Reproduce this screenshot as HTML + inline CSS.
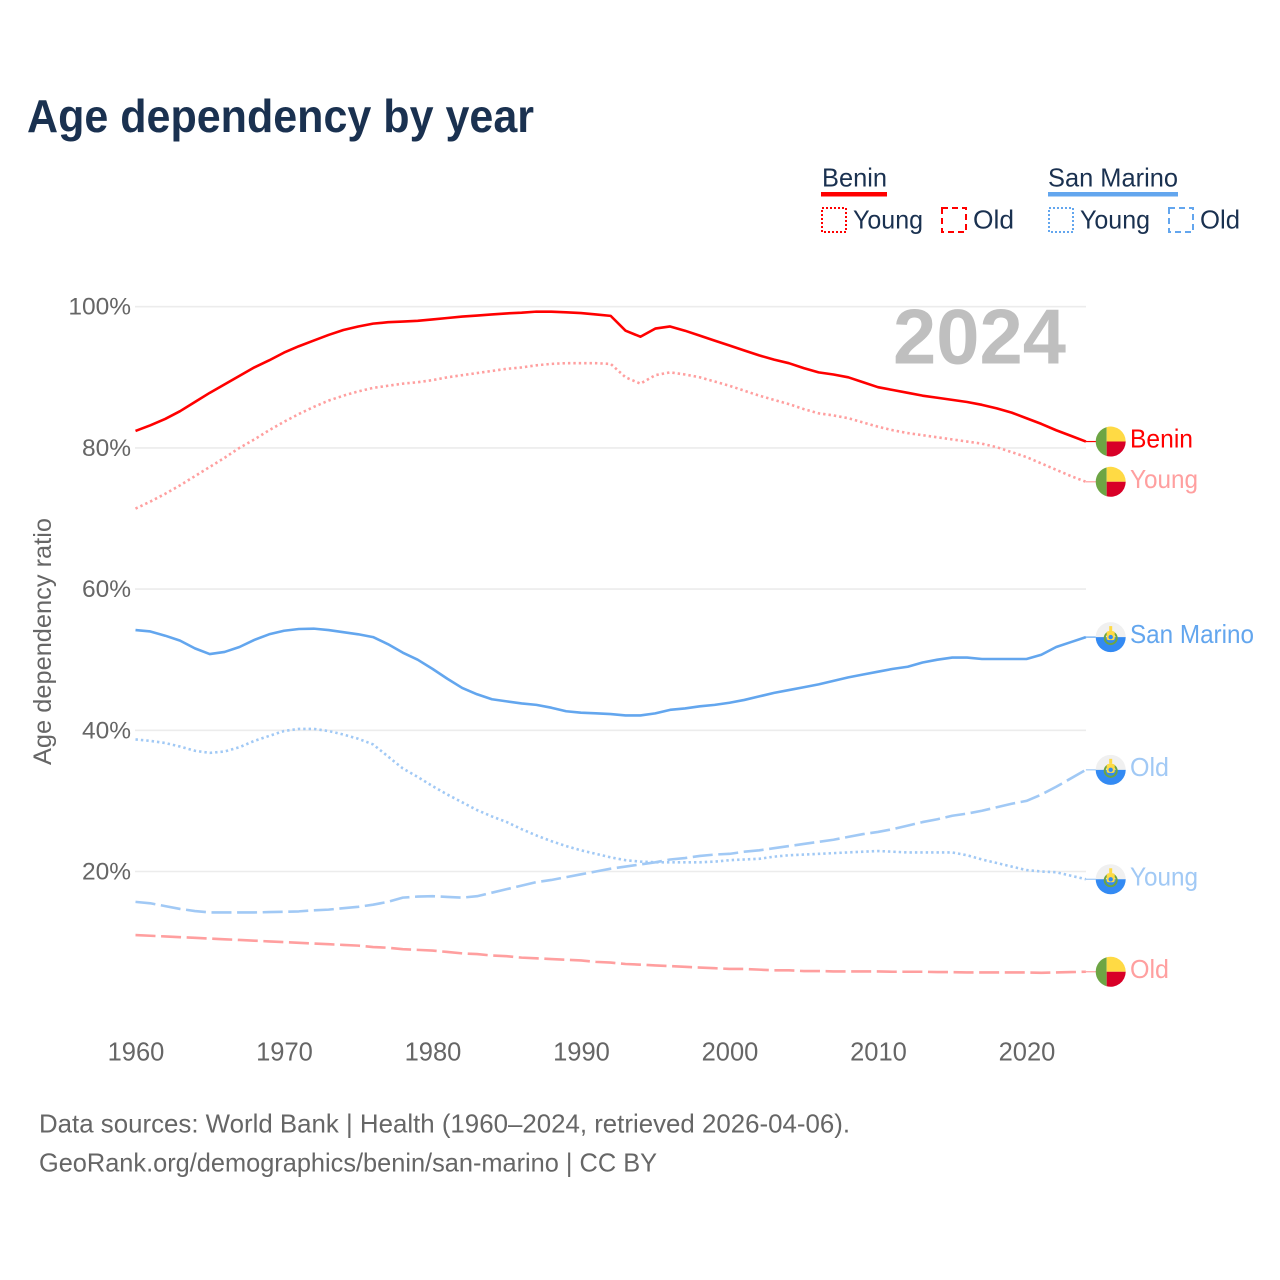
<!DOCTYPE html>
<html lang="en">
<head>
<meta charset="utf-8">
<title>Age dependency by year</title>
<style>
html,body{margin:0;padding:0;background:#fff}
svg{display:block}
text{font-family:"Liberation Sans",sans-serif}
</style>
</head>
<body>
<svg id="chart" xmlns="http://www.w3.org/2000/svg" width="1280" height="1280" viewBox="0 0 1280 1280">
  <rect width="1280" height="1280" fill="#fff"/>
  <text x="27" y="132" font-size="46" font-weight="700" fill="#1a3150" textLength="507" lengthAdjust="spacingAndGlyphs">Age dependency by year</text>

  <g fill="#1a3150" font-size="26">
    <text x="822" y="186.5" textLength="65" lengthAdjust="spacingAndGlyphs">Benin</text>
    <rect x="821" y="192" width="66" height="4.5" fill="#ff0000"/>
    <rect x="822" y="208" width="24" height="24" fill="none" stroke="#ff0000" stroke-width="2" stroke-dasharray="2 2"/>
    <text x="853" y="228.5" textLength="70" lengthAdjust="spacingAndGlyphs">Young</text>
    <rect x="942" y="208" width="24" height="24" fill="none" stroke="#ff0000" stroke-width="2" stroke-dasharray="6 4"/>
    <text x="973" y="228.5" textLength="41" lengthAdjust="spacingAndGlyphs">Old</text>

    <text x="1048" y="186.5" textLength="130" lengthAdjust="spacingAndGlyphs">San Marino</text>
    <rect x="1048" y="192" width="130" height="4.5" fill="#63a6ee"/>
    <rect x="1049" y="208" width="24" height="24" fill="none" stroke="#63a6ee" stroke-width="2" stroke-dasharray="2 2"/>
    <text x="1080" y="228.5" textLength="70" lengthAdjust="spacingAndGlyphs">Young</text>
    <rect x="1169" y="208" width="24" height="24" fill="none" stroke="#63a6ee" stroke-width="2" stroke-dasharray="6 4"/>
    <text x="1200" y="228.5" textLength="40" lengthAdjust="spacingAndGlyphs">Old</text>
  </g>

  <g id="grid"></g>
  <g id="yticks"></g>
  <g id="xticks"></g>

  <text transform="translate(51,641.5) rotate(-90)" text-anchor="middle" font-size="25" fill="#666" textLength="247" lengthAdjust="spacingAndGlyphs">Age dependency ratio</text>

  <text x="893" y="363.5" font-size="78" font-weight="700" fill="#bfbfbf" textLength="173" lengthAdjust="spacingAndGlyphs">2024</text>

  <g id="series"></g>
  <g id="flags"></g>

  <text x="39" y="1132.5" font-size="26" fill="#666" textLength="811" lengthAdjust="spacingAndGlyphs">Data sources: World Bank | Health (1960–2024, retrieved 2026-04-06).</text>
  <text x="39" y="1171.5" font-size="26" fill="#666" textLength="618" lengthAdjust="spacingAndGlyphs">GeoRank.org/demographics/benin/san-marino | CC BY</text>
</svg>

<script>
var years = [1960,1961,1962,1963,1964,1965,1966,1967,1968,1969,1970,1971,1972,1973,1974,1975,1976,1977,1978,1979,1980,1981,1982,1983,1984,1985,1986,1987,1988,1989,1990,1991,1992,1993,1994,1995,1996,1997,1998,1999,2000,2001,2002,2003,2004,2005,2006,2007,2008,2009,2010,2011,2012,2013,2014,2015,2016,2017,2018,2019,2020,2021,2022,2023,2024];
var beninTotal = [82.4,83.2,84.1,85.2,86.5,87.8,89.0,90.2,91.4,92.4,93.5,94.4,95.2,96.0,96.7,97.2,97.6,97.8,97.9,98.0,98.2,98.4,98.6,98.75,98.9,99.05,99.15,99.3,99.3,99.2,99.1,98.9,98.7,96.6,95.75,96.9,97.2,96.6,95.9,95.2,94.5,93.8,93.1,92.5,92.0,91.3,90.7,90.4,90.0,89.3,88.6,88.2,87.8,87.4,87.1,86.8,86.5,86.1,85.6,85.0,84.2,83.4,82.5,81.7,80.9];
var beninYoung = [71.4,72.4,73.5,74.7,76.0,77.3,78.6,80.0,81.2,82.5,83.7,84.8,85.8,86.7,87.4,88.0,88.5,88.8,89.1,89.3,89.6,90.0,90.3,90.6,90.9,91.2,91.4,91.7,91.9,92.0,92.0,92.0,91.9,90.0,89.1,90.3,90.7,90.4,90.0,89.4,88.8,88.1,87.4,86.8,86.2,85.5,84.9,84.6,84.2,83.6,83.0,82.5,82.1,81.8,81.5,81.2,80.9,80.6,80.1,79.4,78.7,77.8,76.9,76.0,75.2];
var beninOld = [11.0,10.9,10.8,10.7,10.6,10.5,10.4,10.3,10.2,10.1,10.0,9.9,9.8,9.7,9.6,9.5,9.3,9.2,9.0,8.9,8.8,8.6,8.4,8.3,8.1,8.0,7.8,7.7,7.6,7.5,7.4,7.2,7.1,6.9,6.8,6.7,6.6,6.5,6.4,6.3,6.2,6.2,6.1,6.0,6.0,5.9,5.9,5.85,5.85,5.85,5.85,5.8,5.8,5.8,5.75,5.75,5.7,5.7,5.7,5.7,5.7,5.65,5.7,5.75,5.8];
var sanMarinoTotal = [54.2,54.0,53.4,52.7,51.6,50.8,51.1,51.8,52.8,53.6,54.1,54.35,54.4,54.2,53.9,53.6,53.2,52.2,51.0,50.0,48.7,47.3,46.0,45.1,44.4,44.1,43.8,43.6,43.2,42.7,42.5,42.4,42.3,42.1,42.1,42.4,42.9,43.1,43.4,43.6,43.9,44.3,44.8,45.3,45.7,46.1,46.5,47.0,47.5,47.9,48.3,48.7,49.0,49.6,50.0,50.3,50.3,50.1,50.1,50.1,50.1,50.7,51.8,52.5,53.2];
var sanMarinoYoung = [38.7,38.5,38.2,37.7,37.1,36.8,37.0,37.6,38.5,39.2,39.9,40.2,40.2,39.9,39.4,38.8,38.0,36.3,34.6,33.4,32.1,30.9,29.8,28.7,27.8,27.0,26.0,25.1,24.3,23.6,23.0,22.5,22.0,21.6,21.4,21.3,21.3,21.3,21.3,21.4,21.6,21.7,21.8,22.1,22.3,22.4,22.5,22.6,22.7,22.8,22.9,22.8,22.7,22.7,22.7,22.7,22.3,21.7,21.2,20.7,20.2,20.0,19.9,19.4,18.9];
var sanMarinoOld = [15.7,15.5,15.1,14.7,14.4,14.2,14.2,14.2,14.2,14.25,14.3,14.35,14.5,14.6,14.8,15.0,15.3,15.7,16.3,16.45,16.5,16.4,16.3,16.5,17.0,17.5,18.0,18.5,18.8,19.2,19.6,20.0,20.4,20.7,21.0,21.3,21.7,21.9,22.2,22.4,22.5,22.8,23.0,23.3,23.6,23.9,24.2,24.5,24.9,25.3,25.6,26.0,26.5,27.0,27.4,27.9,28.2,28.6,29.1,29.6,30.0,30.9,32.0,33.2,34.4];
var yTickValues = [20,40,60,80,100];
var xTickValues = [1960,1970,1980,1990,2000,2010,2020];

var NS = 'http://www.w3.org/2000/svg';
function x(year){ return 135.5 + (year - 1960) * 14.85; }
function y(value){ return 1012.7 - value * 7.06; }
function make(tag, attrs, parent){
  var el = document.createElementNS(NS, tag);
  for (var k in attrs) el.setAttribute(k, attrs[k]);
  parent.appendChild(el);
  return el;
}

var gridG = document.getElementById('grid');
var yG = document.getElementById('yticks');
var xG = document.getElementById('xticks');
var seriesG = document.getElementById('series');
var flagsG = document.getElementById('flags');

yTickValues.forEach(function(v){
  var line = make('line', {x1:135, x2:1086, y1:y(v), y2:y(v), stroke:'#ececec', 'stroke-width':1.6}, gridG);
  
  
  var t = make('text', {x:131, y:y(v)+8, 'text-anchor':'end', 'font-size':24.5, fill:'#666'}, yG);
  
  
  t.textContent = v + '%';
});

xTickValues.forEach(function(yr){
  var t = make('text', {x:x(yr)+0.5, y:1060.5, 'text-anchor':'middle', 'font-size':25.5, fill:'#666'}, xG);
  
  
  t.textContent = yr;
});

var seriesList = [
  {key:'benin-total', values:beninTotal, color:'#ff0000', dash:'', label:'Benin', w:63, flag:'bj'},
  {key:'benin-young', values:beninYoung, color:'#ff9f9f', dash:'2.4 3', label:'Young', w:68, flag:'bj'},
  {key:'benin-old', values:beninOld, color:'#ff9f9f', dash:'20 5.6', label:'Old', w:39, flag:'bj'},
  {key:'san-marino-total', values:sanMarinoTotal, color:'#63a6ee', dash:'', label:'San Marino', w:124, flag:'sm'},
  {key:'san-marino-young', values:sanMarinoYoung, color:'#a1c9f5', dash:'2.4 3', label:'Young', w:68, flag:'sm'},
  {key:'san-marino-old', values:sanMarinoOld, color:'#a1c9f5', dash:'20 5.6', label:'Old', w:39, flag:'sm'}
];

function drawFlag(kind, cy, parent){
  var cx = 1110.7, r = 15;
  if (kind === 'bj') {
    make('path', {d:'M'+(cx-4)+' '+(cy-14.45)+'A15 15 0 0 0 '+(cx-4)+' '+(cy+14.45)+'Z', fill:'#6da544'}, parent);
    make('path', {d:'M'+(cx-4)+' '+(cy-14.45)+'A15 15 0 0 1 '+(cx+r)+' '+cy+'L'+(cx-4)+' '+cy+'Z', fill:'#ffda44'}, parent);
    make('path', {d:'M'+(cx-4)+' '+(cy+14.45)+'A15 15 0 0 0 '+(cx+r)+' '+cy+'L'+(cx-4)+' '+cy+'Z', fill:'#d80027'}, parent);
  } else {
    make('circle', {cx:cx, cy:cy, r:r, fill:'#f0f0f0'}, parent);
    make('path', {d:'M'+(cx-r)+' '+cy+'A15 15 0 0 0 '+(cx+r)+' '+cy+'Z', fill:'#338af3'}, parent);
    make('circle', {cx:cx, cy:cy+1, r:6, fill:'none', stroke:'#6da544', 'stroke-width':2}, parent);
    make('rect', {x:cx-4, y:cy-6, width:8, height:9, rx:2, fill:'#ffda44'}, parent);
    make('circle', {cx:cx, cy:cy, r:2.2, fill:'#338af3'}, parent);
    make('rect', {x:cx-1.5, y:cy-11, width:3, height:5, fill:'#ffda44'}, parent);
  }
}

seriesList.forEach(function(s){
  var d = s.values.map(function(v, i){ return (i ? 'L' : 'M') + x(years[i]).toFixed(2) + ' ' + y(v).toFixed(2); }).join('');
  var path = make('path', {d:d, fill:'none', stroke:s.color, 'stroke-width':2.6, 'stroke-linejoin':'round'}, seriesG);
  
  
  if (s.dash) path.setAttribute('stroke-dasharray', s.dash);

  var last = s.values[s.values.length - 1];
  var ly = y(last);
  var lead = make('line', {x1:x(years[years.length-1]), x2:1096, y1:ly, y2:ly, stroke:s.color, 'stroke-width':1.2}, seriesG);
  
  

  var g = make('g', {}, flagsG);
  
  
  drawFlag(s.flag, ly, g);

  var t = make('text', {x:1130, y:ly+6, 'font-size':26, fill:s.color, textLength:s.w, lengthAdjust:'spacingAndGlyphs'}, flagsG);
  
  
  t.textContent = s.label;
});
</script>
</body>
</html>
